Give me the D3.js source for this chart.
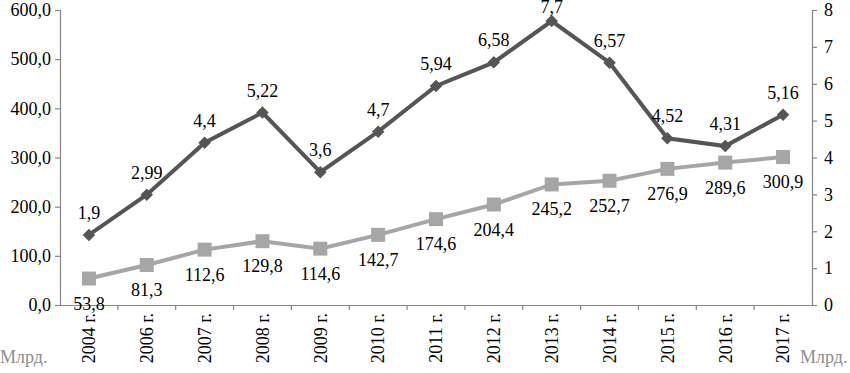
<!DOCTYPE html>
<html>
<head>
<meta charset="utf-8">
<script src="https://cdn.jsdelivr.net/npm/d3@7"></script>
<style>
  body { margin: 0; background: #fff; }
</style>
</head>
<body>
<svg id="chart" width="850" height="373"></svg>
<script>
// categories and the two series
const years = ['2004 г.', '2006 г.', '2007 г.', '2008 г.', '2009 г.', '2010 г.', '2011 г.',
               '2012 г.', '2013 г.', '2014 г.', '2015 г.', '2016 г.', '2017 г.'];
const leftValues = [53.8, 81.3, 112.6, 129.8, 114.6, 142.7, 174.6, 204.4, 245.2, 252.7, 276.9, 289.6, 300.9];
const rightValues = [1.9, 2.99, 4.4, 5.22, 3.6, 4.7, 5.94, 6.58, 7.7, 6.57, 4.52, 4.31, 5.16];
const leftTicks = [0, 100, 200, 300, 400, 500, 600];
const rightTicks = [0, 1, 2, 3, 4, 5, 6, 7, 8];
const unitLabel = 'Млрд.';

const fmt = v => String(v).replace('.', ',');
const fmt1 = v => v.toFixed(1).replace('.', ',');

const svg = d3.select('#chart');
const margin = { left: 60, right: 38, top: 10, bottom: 68 };
const W = 850, H = 373;
const axisColor = '#868686';
const fontSize = '18px';
const serif = "'Liberation Serif', 'Times New Roman', serif";

const x = d3.scaleBand()
    .domain(years)
    .range([margin.left, W - margin.right])
    .padding(0);
const yL = d3.scaleLinear().domain([0, 600]).range([H - margin.bottom, margin.top]);
const yR = d3.scaleLinear().domain([0, 8]).range([H - margin.bottom, margin.top]);
const cx = d => x(d) + x.bandwidth() / 2;

// left axis
const gL = svg.append('g')
    .attr('transform', `translate(${margin.left},0)`)
    .call(d3.axisLeft(yL).tickValues(leftTicks).tickFormat(fmt1).tickSize(5).tickPadding(4));
// right axis
const gR = svg.append('g')
    .attr('transform', `translate(${W - margin.right},0)`)
    .call(d3.axisRight(yR).tickValues(rightTicks).tickFormat(d => d).tickSize(5).tickPadding(7));
// bottom axis, ticks between categories
const gB = svg.append('g')
    .attr('transform', `translate(0,${H - margin.bottom})`)
    .call(d3.axisBottom(x).tickSize(0).tickPadding(8));

[gL, gR, gB].forEach(g => {
    g.select('.domain').attr('stroke', axisColor).attr('stroke-width', 1.2);
    g.selectAll('.tick line').attr('stroke', axisColor).attr('stroke-width', 1.2);
    g.selectAll('text').attr('fill', '#000');
});

gB.selectAll('.tick text')
    .attr('transform', 'rotate(-90)')
    .attr('text-anchor', 'end')
    .attr('dx', '-8px')
    .attr('dy', '0.35em')
    .attr('x', 0)
    .attr('y', 0);

gB.selectAll('.sep')
    .data(years.slice(1))
    .enter()
    .append('line')
    .attr('x1', d => x(d))
    .attr('x2', d => x(d))
    .attr('y1', 0)
    .attr('y2', 5)
    .attr('stroke', axisColor)
    .attr('stroke-width', 1.2);

// grey series (left axis)
const lineL = d3.line().x((d, i) => cx(years[i])).y(d => yL(d));
svg.append('path')
    .datum(leftValues)
    .attr('d', lineL)
    .attr('fill', 'none')
    .attr('stroke', '#a6a6a6')
    .attr('stroke-width', 4);

svg.selectAll('.sq')
    .data(leftValues)
    .enter()
    .append('rect')
    .attr('x', (d, i) => cx(years[i]) - 7)
    .attr('y', d => yL(d) - 7)
    .attr('width', 14)
    .attr('height', 14)
    .attr('fill', '#a6a6a6');

// dark series (right axis)
const lineR = d3.line().x((d, i) => cx(years[i])).y(d => yR(d));
svg.append('path')
    .datum(rightValues)
    .attr('d', lineR)
    .attr('fill', 'none')
    .attr('stroke', '#555555')
    .attr('stroke-width', 4);

svg.selectAll('.dm')
    .data(rightValues)
    .enter()
    .append('path')
    .attr('d', d3.symbol().type(d3.symbolDiamond2).size(100))
    .attr('transform', (d, i) => `translate(${cx(years[i])},${yR(d)})`)
    .attr('fill', '#555555');

// data labels
svg.selectAll('.lblR')
    .data(rightValues)
    .enter()
    .append('text')
    .attr('x', (d, i) => cx(years[i]))
    .attr('y', d => Math.max(13, yR(d) - 16))
    .attr('text-anchor', 'middle')
    .attr('fill', '#000')
    .text(fmt);

svg.selectAll('.lblL')
    .data(leftValues)
    .enter()
    .append('text')
    .attr('x', (d, i) => cx(years[i]))
    .attr('y', d => yL(d) + 31)
    .attr('text-anchor', 'middle')
    .attr('fill', '#000')
    .text(d => fmt1(d));

// unit captions
svg.append('text')
    .attr('x', 0)
    .attr('y', 363)
    .attr('fill', '#8c8c8c')
    .text(unitLabel);

svg.append('text')
    .attr('x', 800)
    .attr('y', 363)
    .attr('fill', '#8c8c8c')
    .text(unitLabel);

// one serif face for every text
svg.selectAll('g').attr('font-family', null).attr('font-size', null);
svg.selectAll('text')
    .style('font-family', serif)
    .style('font-size', fontSize);
</script>
</body>
</html>
